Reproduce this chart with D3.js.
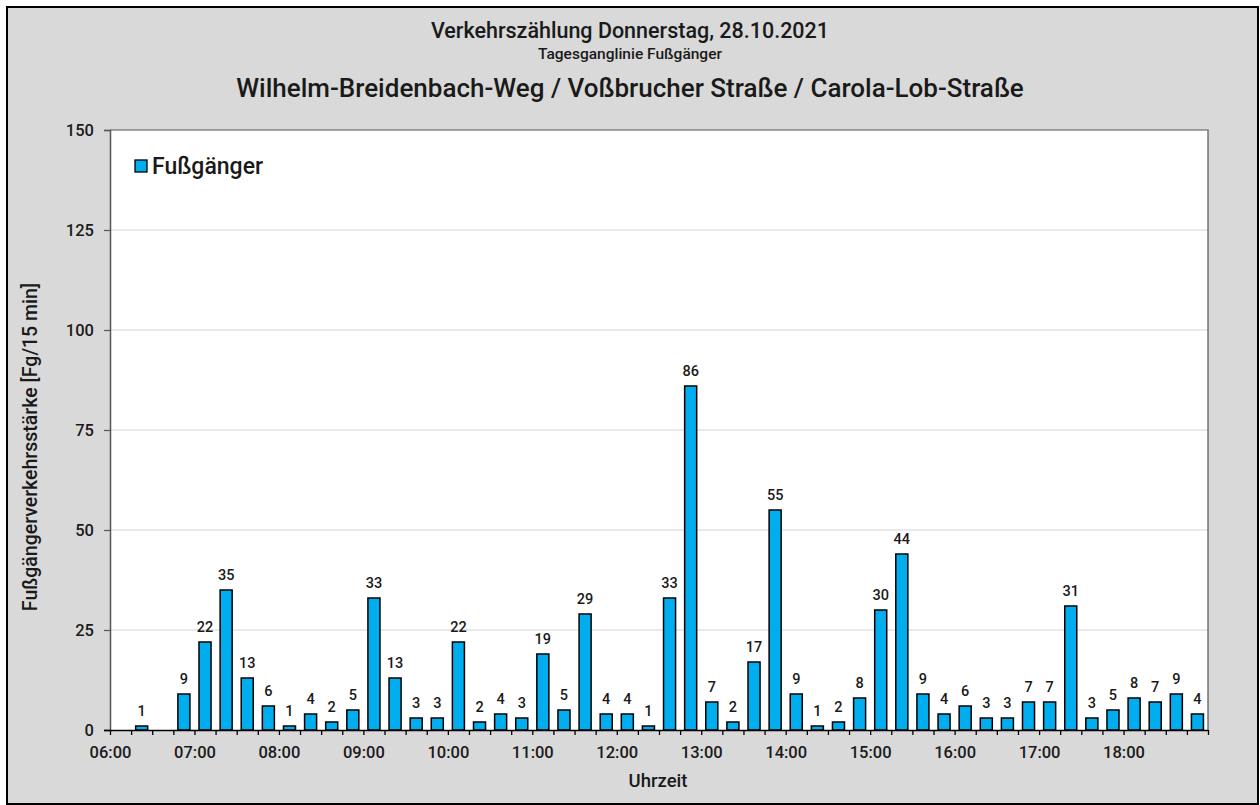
<!DOCTYPE html>
<html>
<head>
<meta charset="utf-8">
<script src="https://cdn.jsdelivr.net/npm/d3@7"></script>
<style>
  html, body { margin: 0; padding: 0; background: #ffffff; }
  svg { display: block; font-family: Roboto, "DejaVu Sans", sans-serif; }
</style>
</head>
<body>
<svg id="chart" width="1260" height="805"></svg>
<script>
// 15-minute counting intervals (start of interval)
const slots = [
  "06:00","06:15","06:30","06:45","07:00","07:15","07:30","07:45",
  "08:00","08:15","08:30","08:45","09:00","09:15","09:30","09:45",
  "10:00","10:15","10:30","10:45","11:00","11:15","11:30","11:45",
  "12:00","12:15","12:30","12:45","13:00","13:15","13:30","13:45",
  "14:00","14:15","14:30","14:45","15:00","15:15","15:30","15:45",
  "16:00","16:15","16:30","16:45","17:00","17:15","17:30","17:45",
  "18:00","18:15","18:30","18:45"
];
// Pedestrians per 15 min (null = no bar)
const pedestrians = [
  null, 1, null, 9, 22, 35, 13, 6,
  1, 4, 2, 5, 33, 13, 3, 3,
  22, 2, 4, 3, 19, 5, 29, 4,
  4, 1, 33, 86, 7, 2, 17, 55,
  9, 1, 2, 8, 30, 44, 9, 4,
  6, 3, 3, 7, 7, 31, 3, 5,
  8, 7, 9, 4
];
const yTicks = [0, 25, 50, 75, 100, 125, 150];
const seriesName = "Fußgänger";
const titleLines = [
  "Verkehrszählung Donnerstag, 28.10.2021",
  "Tagesganglinie Fußgänger",
  "Wilhelm-Breidenbach-Weg / Voßbrucher Straße / Carola-Lob-Straße"
];
const yTitle = "Fußgängerverkehrsstärke [Fg/15 min]";
const xTitle = "Uhrzeit";

const svg = d3.select("#chart");
const plot = { left: 110, right: 1208, top: 130, bottom: 730 };
const barColor = "#00AEEF";
const textColor = "#1a1a1a";

// outer frame
svg.append("rect")
  .attr("x", 7).attr("y", 7).attr("width", 1251).attr("height", 797)
  .attr("fill", "#d9d9d9").attr("stroke", "#000").attr("stroke-width", 2);

// titles
const titleSizes = [21.5, 15.5, 26];
const titleY = [38, 59, 97];
titleLines.forEach((t, i) => {
  svg.append("text")
    .attr("x", 630).attr("y", titleY[i])
    .attr("text-anchor", "middle")
    .attr("font-size", titleSizes[i])
    .attr("font-weight", 500)
    .attr("fill", textColor)
    .text(t);
});

// plot background
svg.append("rect")
  .attr("x", plot.left).attr("y", plot.top)
  .attr("width", plot.right - plot.left).attr("height", plot.bottom - plot.top)
  .attr("fill", "#ffffff");

// scales
const x = d3.scaleBand()
  .domain(slots)
  .range([plot.left, plot.right])
  .paddingInner(0.43)
  .paddingOuter(0.215);

const parse = d3.timeParse("%H:%M");
const xTime = d3.scaleTime()
  .domain([parse("06:00"), parse("19:00")])
  .range([plot.left, plot.right]);

const y = d3.scaleLinear()
  .domain([0, 150])
  .range([plot.bottom, plot.top]);

// gridlines
svg.append("g")
  .selectAll("line")
  .data(yTicks.filter(v => v > 0 && v < 150))
  .join("line")
  .attr("x1", plot.left).attr("x2", plot.right)
  .attr("y1", d => y(d)).attr("y2", d => y(d))
  .attr("stroke", "#d4d4d4").attr("stroke-width", 1);

// plot border (top / right)
svg.append("path")
  .attr("d", `M${plot.left},${plot.top}H${plot.right}V${plot.bottom}`)
  .attr("fill", "none").attr("stroke", "#555").attr("stroke-width", 1.2);

// bars
const data = slots.map((s, i) => ({ slot: s, value: pedestrians[i] }))
  .filter(d => d.value !== null);

svg.append("g")
  .selectAll("rect")
  .data(data)
  .join("rect")
  .attr("x", d => x(d.slot))
  .attr("y", d => y(d.value))
  .attr("width", x.bandwidth())
  .attr("height", d => y(0) - y(d.value))
  .attr("fill", barColor)
  .attr("stroke", "#000")
  .attr("stroke-width", 1.5);

// value labels
svg.append("g")
  .selectAll("text")
  .data(data)
  .join("text")
  .attr("x", d => x(d.slot) + x.bandwidth() / 2)
  .attr("y", d => y(d.value) - 10)
  .attr("text-anchor", "middle")
  .attr("font-size", 14.5)
  .attr("font-weight", 500)
  .attr("fill", textColor)
  .text(d => d.value);

// y axis
const yAxis = svg.append("g")
  .attr("transform", `translate(${plot.left},0)`)
  .call(d3.axisLeft(y).tickValues(yTicks).tickSize(6).tickPadding(10));
yAxis.select(".domain").attr("stroke", "#555").attr("stroke-width", 1.5);
yAxis.selectAll(".tick line").attr("stroke", "#555").attr("stroke-width", 1.2);
yAxis.selectAll(".tick text")
  .attr("font-size", 16.5).attr("font-weight", 500)
  .attr("font-family", "Roboto, sans-serif")
  .attr("fill", textColor);

// x axis: ticks every 15 minutes, labels at full hours (without 19:00)
const xAxis = svg.append("g")
  .attr("transform", `translate(0,${plot.bottom})`)
  .call(d3.axisBottom(xTime)
    .ticks(d3.timeMinute.every(15))
    .tickSize(5)
    .tickSizeOuter(0)
    .tickFormat(d => (d.getMinutes() === 0 && d.getHours() < 19) ? d3.timeFormat("%H:%M")(d) : ""));
xAxis.select(".domain").attr("stroke", "#000").attr("stroke-width", 1.5)
  .attr("d", `M${plot.left - 6},0.5H${plot.right}`);
xAxis.selectAll(".tick line").attr("stroke", "#000").attr("stroke-width", 1.3);
xAxis.selectAll(".tick text")
  .attr("y", 28).attr("dy", 0)
  .attr("font-size", 16.5).attr("font-weight", 500)
  .attr("font-family", "Roboto, sans-serif")
  .attr("fill", textColor);

// axis titles
svg.append("text")
  .attr("transform", "translate(37,447) rotate(-90)")
  .attr("text-anchor", "middle")
  .attr("font-size", 19.5).attr("font-weight", 500)
  .attr("fill", textColor)
  .text(yTitle);

svg.append("text")
  .attr("x", 658).attr("y", 787)
  .attr("text-anchor", "middle")
  .attr("font-size", 18.5).attr("font-weight", 500)
  .attr("fill", textColor)
  .text(xTitle);

// legend
const legend = svg.append("g").attr("transform", "translate(135,160)");
legend.append("rect")
  .attr("width", 12).attr("height", 12)
  .attr("fill", barColor).attr("stroke", "#000").attr("stroke-width", 1.3);
legend.append("text")
  .attr("x", 17).attr("y", 14)
  .attr("font-size", 23).attr("font-weight", 500)
  .attr("fill", textColor)
  .text(seriesName);
</script>
</body>
</html>
